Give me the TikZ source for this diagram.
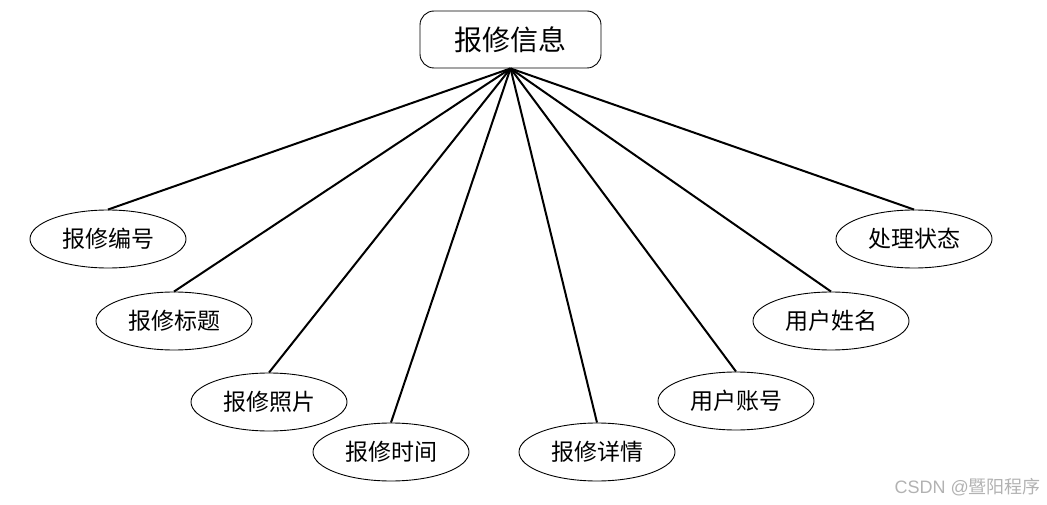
\documentclass[tikz,border=0pt]{standalone}
\usepackage{fontspec}
\setmainfont{Noto Sans CJK SC}
\usetikzlibrary{shapes.geometric}
\begin{document}
\begin{tikzpicture}[x=1pt,y=-1pt,
  attr/.style={ellipse,draw=black,line width=0.9pt,minimum width=156pt,minimum height=58pt,inner sep=0pt,font=\fontsize{23}{25}\selectfont},
  ent/.style={rectangle,rounded corners=14pt,draw=black,line width=0.9pt,minimum width=181pt,minimum height=57pt,inner sep=0pt,font=\fontsize{28}{30}\selectfont},
  link/.style={line width=2pt}]
\useasboundingbox (0,0) rectangle (1047,505);
\node[ent] (top) at (510.5,39.5) {报修信息};
\node[attr] (a1) at (108,239) {报修编号};
\node[attr] (a2) at (174,321) {报修标题};
\node[attr] (a3) at (269,402) {报修照片};
\node[attr] (a4) at (391,452) {报修时间};
\node[attr] (a5) at (597,452) {报修详情};
\node[attr] (a6) at (736,401) {用户账号};
\node[attr] (a7) at (831,321) {用户姓名};
\node[attr] (a8) at (914,239) {处理状态};
\foreach \n in {a1,a2,a3,a4,a5,a6,a7,a8}
  \draw[link] (top.south) -- (\n.north);
\node[text=black!30,font=\fontsize{18}{20}\selectfont,anchor=east,inner sep=0pt] (wm) at (1041,487) {\fontspec{Liberation Sans}CSDN @\fontspec{Noto Sans CJK SC}暨阳程序};
\end{tikzpicture}
\end{document}
